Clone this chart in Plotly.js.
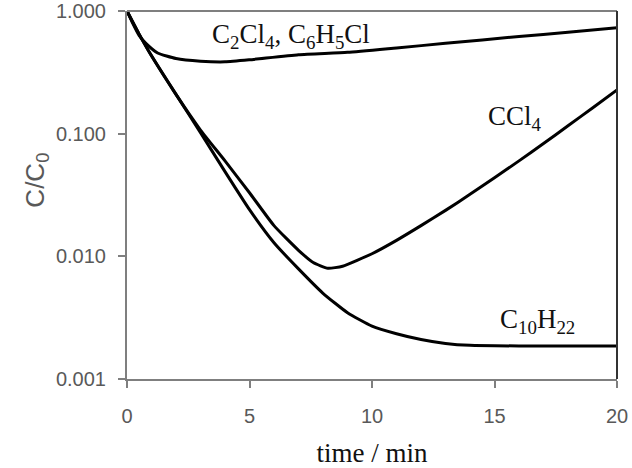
<!DOCTYPE html>
<html>
<head>
<meta charset="utf-8">
<script src="https://cdn.plot.ly/plotly-3.0.1.min.js"></script>
<style>
  html, body { margin: 0; padding: 0; background: #fff; }
  #chart { width: 632px; height: 468px; }
</style>
</head>
<body>
<div id="chart"></div>
<script>
// Relative concentration C/C0 against treatment time (min)
const tC2Cl4 = [0, 0.2, 0.5, 0.75, 1.25, 2, 3, 4, 5, 7, 9, 11, 13, 16, 18, 20];
const yC2Cl4 = [1.0, 0.82, 0.63, 0.55, 0.455, 0.41, 0.39, 0.385, 0.40, 0.44, 0.46, 0.50, 0.545, 0.62, 0.67, 0.73];

const tCCl4 = [0, 0.5, 1, 2, 3, 4, 5, 6, 7, 7.6, 8.2, 8.8, 10, 11, 12, 13, 14, 15, 16, 17, 18, 19, 20];
const yCCl4 = [1.0, 0.645, 0.431, 0.209, 0.107, 0.060, 0.033, 0.0178, 0.0112, 0.0089, 0.0080, 0.0083, 0.0105, 0.0135, 0.0178, 0.0237, 0.032, 0.0437, 0.060, 0.083, 0.116, 0.162, 0.227];

const tC10H22 = [0, 0.5, 1, 2, 3, 4, 5, 6, 7, 8, 9, 10, 11, 12, 13, 14, 16, 18, 20];
const yC10H22 = [1.0, 0.645, 0.431, 0.209, 0.102, 0.049, 0.024, 0.0129, 0.0079, 0.0050, 0.00347, 0.0027, 0.00234, 0.0021, 0.00195, 0.00188, 0.00186, 0.00186, 0.00186];

const yTickVals = [0.001, 0.01, 0.1, 1];
const yTickText = ['0.001', '0.010', '0.100', '1.000'];

const sans = 'Liberation Sans, Arial, sans-serif';
const serif = 'Liberation Serif, Times New Roman, serif';
const axisGrey = '#7f7f7f';
const labelGrey = '#595959';

function curve(x, y, name) {
  return {
    x: x, y: y, name: name, type: 'scatter', mode: 'lines',
    line: { color: '#000', width: 3, shape: 'spline', smoothing: 0.5 },
    hoverinfo: 'skip'
  };
}

const traces = [
  curve(tC2Cl4, yC2Cl4, 'C2Cl4, C6H5Cl'),
  curve(tCCl4, yCCl4, 'CCl4'),
  curve(tC10H22, yC10H22, 'C10H22')
];

const layout = {
  width: 632, height: 468,
  margin: { l: 127, r: 15, t: 11, b: 89 },
  paper_bgcolor: '#fff', plot_bgcolor: '#fff',
  showlegend: false,
  xaxis: {
    range: [0, 20], tickvals: [0, 5, 10, 15, 20],
    showgrid: false, zeroline: false,
    showline: true, linecolor: axisGrey, linewidth: 2,
    ticks: 'outside', ticklen: 7, tickwidth: 2, tickcolor: axisGrey,
    ticklabelstandoff: 11,
    tickfont: { family: sans, size: 20, color: labelGrey },
    title: { text: 'time / min', font: { family: serif, size: 27, color: '#111' }, standoff: 24 }
  },
  yaxis: {
    type: 'log', range: [-3, 0],
    tickvals: yTickVals, ticktext: yTickText,
    showgrid: false, zeroline: false,
    showline: true, linecolor: axisGrey, linewidth: 2,
    ticks: 'outside', ticklen: 7, tickwidth: 2, tickcolor: axisGrey,
    ticklabelstandoff: 8,
    tickfont: { family: sans, size: 20, color: labelGrey }
  },
  shapes: [
    // frame: top edge grey, right edge dark
    { type: 'line', xref: 'paper', yref: 'paper', x0: 0, x1: 1, y0: 1, y1: 1, line: { color: axisGrey, width: 2 } },
    { type: 'line', xref: 'paper', yref: 'paper', x0: 1, x1: 1, y0: 0, y1: 1, line: { color: '#333', width: 2 } }
  ],
  annotations: [
    // y-axis title, set a little above the plot's middle
    { x: -0.222, y: 0.541, xref: 'paper', yref: 'paper', text: 'C/C<sub>0</sub>', textangle: -90,
      showarrow: false, font: { family: sans, size: 26, color: labelGrey } },
    { x: 6.7, y: Math.log10(0.62), xref: 'x', yref: 'y', text: 'C<sub>2</sub>Cl<sub>4</sub>, C<sub>6</sub>H<sub>5</sub>Cl',
      showarrow: false, font: { family: serif, size: 27, color: '#111' } },
    { x: 15.85, y: Math.log10(0.135), xref: 'x', yref: 'y', text: 'CCl<sub>4</sub>',
      showarrow: false, font: { family: serif, size: 27, color: '#111' } },
    { x: 16.75, y: Math.log10(0.00295), xref: 'x', yref: 'y', text: 'C<sub>10</sub>H<sub>22</sub>',
      showarrow: false, font: { family: serif, size: 27, color: '#111' } }
  ]
};

Plotly.newPlot('chart', traces, layout, { staticPlot: true, displayModeBar: false });
</script>
</body>
</html>
